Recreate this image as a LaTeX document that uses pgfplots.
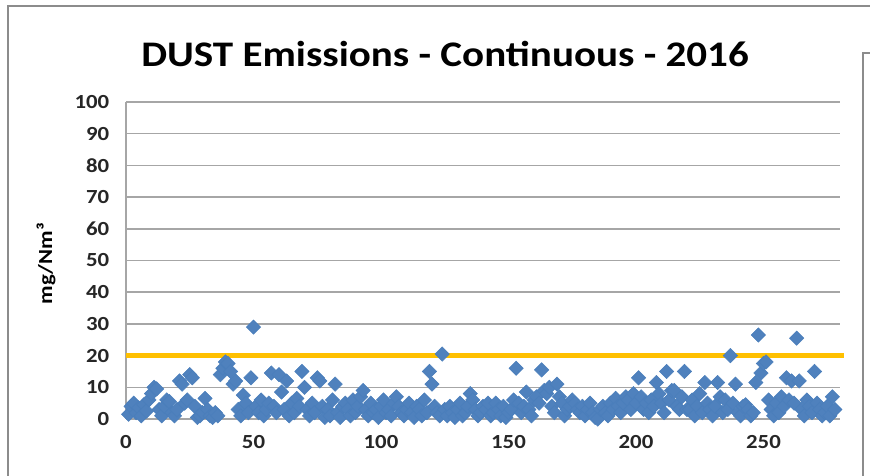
\documentclass[border=0pt]{standalone}
\usepackage{fontspec}
\setmainfont{Carlito}[FakeStretch=1.14]
\usepackage{pgfplots}
\pgfplotsset{compat=1.18}

\definecolor{dustblue}{HTML}{4F81BD}
\definecolor{dustedge}{HTML}{4A7EBB}
\definecolor{limitorange}{HTML}{FFC000}
\definecolor{gridgray}{HTML}{A6A6A6}
\definecolor{framegray}{HTML}{8C8C8C}

\begin{document}
\begin{tikzpicture}
% 1 px of the reference = 0.75pt; picture is 652.5pt x 356.25pt
\begin{axis}[
    at={(94.5pt,42pt)}, anchor=south west,
    scale only axis,
    width=535.5pt, height=237.75pt,
    xmin=0, xmax=280,
    ymin=0, ymax=100,
    xtick={0,50,...,250},
    ytick={0,10,...,100},
    ymajorgrids,
    grid style={gridgray, line width=1.1pt},
    axis x line*=bottom,
    axis y line*=left,
    axis line style={gridgray, line width=1.1pt, -},
    major tick length=0pt,
    ticklabel style={font=\fontsize{15}{15}\selectfont\bfseries, text=black!85},
    /pgf/number format/assume math mode=true,
    yticklabel style={xshift=-9pt},
    xticklabel style={yshift=-9pt},
    ylabel={mg/Nm³},
    ylabel style={font=\fontsize{15}{15}\selectfont\bfseries, at={(axis description cs:-0.112,0.49)}, anchor=center, rotate=0},
    clip=false,
]
% daily values
\addplot[only marks, mark=square*, mark size=3.8pt,
         mark options={rotate=45, fill=dustblue, draw=dustedge}] coordinates {
(1,1.5) (2,4) (3,5) (4,2) (5,3.5) (6,1) (7,4.5) (8,2.5) (9,6) (10,8)
(11,10) (12,9.5) (13,3) (14,1) (15,4) (16,6) (17,5.5) (18,2) (19,1) (20,3)
(21,12) (22,11) (23,5) (24,6) (25,14) (26,13) (27,4) (28,0.5) (29,1) (30,2)
(31,6.5) (32,3) (33,1) (34,0.5) (35,2) (36,1) (37,14) (38,16) (39,18) (40,17.5)
(41,15) (42,11) (43,12) (44,3) (45,1) (46,7.5) (47,5) (48,2) (49,13) (50,29)
(51,4) (52,2) (53,6) (54,1) (55,3) (56,5) (57,14.5) (58,4) (59,2) (60,14)
(61,8.5) (62,3) (63,12) (64,1) (65,5) (66,2) (67,6.5) (68,4) (69,15) (70,10)
(71,3) (72,1) (73,5) (74,2) (75,13) (76,12) (77,4) (78,0.5) (79,3) (80,1)
(81,6) (82,11) (83,2) (84,0.5) (85,4) (86,5) (87,3) (88,1) (89,6) (90,2)
(91,4) (92,7) (93,9) (94,3) (95,1) (96,5) (97,2) (98,3) (99,0.5) (100,4)
(101,6) (102,2) (103,3) (104,1) (105,5) (106,7) (107,4) (108,2) (109,1) (110,3)
(111,5) (112,2) (113,0.5) (114,4) (115,3) (116,1) (117,6) (118,2) (119,15) (120,11)
(121,4) (122,2) (123,1) (124,20.5) (125,3) (126,1) (127,4) (128,2) (129,0.5) (130,3)
(131,5) (132,1) (133,2) (134,4) (135,8) (136,6) (137,3) (138,1) (139,2) (140,4)
(141,3) (142,5) (143,1) (144,2) (145,5) (146,3) (147,1) (148,4) (149,0.5) (150,2)
(151,3) (152,6) (153,16) (154,5) (155,2) (156,4) (157,8.5) (158,3) (159,1) (160,6)
(161,7) (162,5) (163,15.5) (164,9) (165,8) (166,10) (167,4) (168,2) (169,11) (170,7)
(171,5) (172,1) (173,3) (174,4) (175,6) (176,5) (177,3) (178,2) (179,4) (180,1)
(181,3) (182,5) (183,2) (184,0.5) (185,0) (186,3) (187,4) (188,2) (189,1) (190,5)
(191,3) (192,6.5) (193,4) (194,2) (195,5) (196,7) (197,6) (198,3) (199,8) (200,5)
(201,13) (202,7) (203,3) (204,5) (205,2) (206,6) (207,4) (208,11.5) (209,8) (210,5)
(211,2) (212,15) (213,6) (214,9) (215,9) (216,4) (217,3) (218,7) (219,15) (220,3)
(221,3) (222,6) (223,1) (224,4) (225,8) (226,2) (227,11.5) (228,5) (229,3) (230,1)
(231,4) (232,11.5) (233,7) (234,2) (235,6) (236,3) (237,20) (238,5) (239,11) (240,2)
(241,1) (242,4) (243,4.5) (244,3) (245,1) (246,2) (247,11.5) (248,26.5) (249,14.5) (250,17.5)
(251,18) (252,6) (253,3) (254,1) (255,5) (256,2) (257,7) (258,4) (259,13) (260,6)
(261,12) (262,5) (263,25.5) (264,12) (265,3) (266,1) (267,6) (268,4) (269,2) (270,15)
(271,5) (272,3) (273,1) (274,2) (275,4) (276,1) (277,7) (278,3)
};
% limit line
\addplot[limitorange, line width=3.75pt, no markers] coordinates {(0,20) (281.5,20)};
\end{axis}

% chart frame (cropped) and the edge of the legend box
\draw[framegray, line width=1.2pt] (6pt,-2pt) -- (6pt,351.75pt) -- (655pt,351.75pt);
\draw[framegray, line width=1.2pt] (647.25pt,-2pt) -- (647.25pt,316.5pt) -- (655pt,316.5pt);

\node[anchor=base, font=\fontsize{27}{27}\selectfont\bfseries] at (333.75pt,306pt)
  {DUST Emissions - Continuous - 2016};

\pgfresetboundingbox
\useasboundingbox (0pt,0pt) rectangle (652.5pt,356.25pt);
\end{tikzpicture}
\end{document}
